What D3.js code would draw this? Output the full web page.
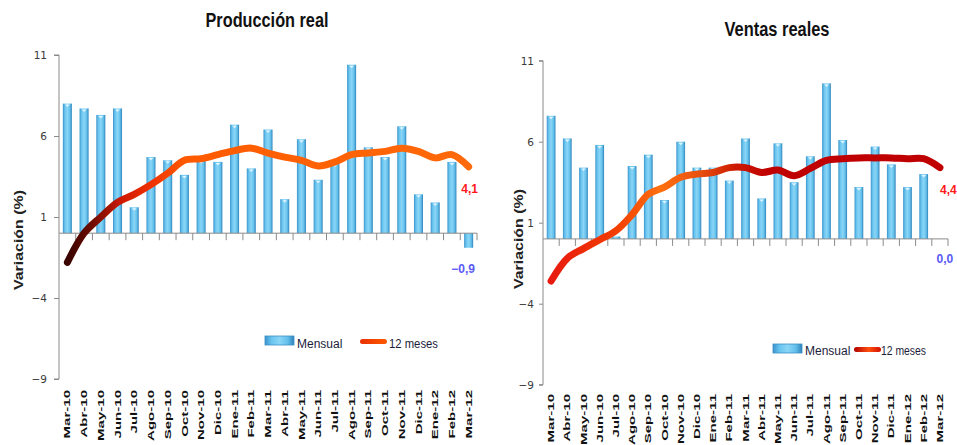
<!DOCTYPE html>
<html>
<head>
<meta charset="utf-8">
<script src="https://cdn.jsdelivr.net/npm/d3@7"></script>
<style>
  html, body { margin: 0; padding: 0; background: #fff; }
  svg { display: block; font-family: "Liberation Sans", Arial, sans-serif; }
</style>
</head>
<body>
<svg id="chart" width="957" height="445"></svg>
<script>
// Months shared by both panels
const categories = ["Mar-10","Abr-10","May-10","Jun-10","Jul-10","Ago-10","Sep-10","Oct-10","Nov-10","Dic-10",
  "Ene-11","Feb-11","Mar-11","Abr-11","May-11","Jun-11","Jul-11","Ago-11","Sep-11","Oct-11","Nov-11","Dic-11",
  "Ene-12","Feb-12","Mar-12"];

// Producción real: monthly variation and 12-month variation (%)
const produccionMensual = [8.0, 7.7, 7.3, 7.7, 1.6, 4.7, 4.5, 3.6, 4.5, 4.4, 6.7, 4.0, 6.4, 2.1, 5.8, 3.3,
  4.3, 10.4, 5.3, 4.7, 6.6, 2.4, 1.9, 4.4, -0.9];
const produccion12m = [-1.8, 0.0, 1.0, 1.9, 2.4, 3.0, 3.7, 4.5, 4.6, 4.85, 5.1, 5.25, 4.95, 4.7, 4.5, 4.15,
  4.4, 4.85, 4.95, 5.05, 5.25, 5.05, 4.65, 4.85, 4.1];

// Ventas reales: monthly variation and 12-month variation (%)
const ventasMensual = [7.6, 6.2, 4.4, 5.8, 0.15, 4.5, 5.2, 2.4, 6.0, 4.4, 4.4, 3.6, 6.2, 2.5, 5.9, 3.5,
  5.1, 9.6, 6.1, 3.2, 5.7, 4.6, 3.2, 4.0, 0.0];
const ventas12m = [-2.6, -1.2, -0.6, -0.05, 0.5, 1.5, 2.75, 3.2, 3.8, 4.0, 4.1, 4.4, 4.4, 4.1, 4.25, 3.9,
  4.35, 4.85, 4.95, 5.0, 5.0, 5.0, 4.95, 4.95, 4.4];

const yTicks = [-9, -4, 1, 6, 11];
const yDomain = [-9, 11];
const titles = ["Producción real", "Ventas reales"];
const yLabel = "Variación (%)";
const legendLabels = ["Mensual", "12 meses"];

const fmt = v => d3.format(".1f")(v).replace(".", ",");

const svg = d3.select("#chart");
const defs = svg.append("defs");

// bar fill: cylinder-like horizontal shading
const barGrad = defs.append("linearGradient").attr("id", "barGrad")
  .attr("x1", "0%").attr("x2", "100%").attr("y1", "0%").attr("y2", "0%");
[["0%", "#3a93cc"], ["22%", "#69c4ee"], ["50%", "#8ad5f7"], ["78%", "#63c0eb"], ["100%", "#2f83bb"]]
  .forEach(([o, c]) => barGrad.append("stop").attr("offset", o).attr("stop-color", c));

const panels = [
  {
    id: "prod", title: titles[0], mensual: produccionMensual, doce: produccion12m,
    x0: 59, x1: 477, yTop: 55, yBot: 379,
    titleX: 267, titleY: 27, titleW: 123,
    yLabX: 19, yLabY: 240, tickSize: 5, tickPad: 7,
    catLabY: 390,
    legend: { x: 265, y: 336, textY: 348 },
    lineStops: [[68, "#3a0400"], [92, "#6e0c00"], [122, "#cf1a00"], [150, "#ef3000"], [185, "#ff5a00"], [477, "#ff6a0a"]],
    endLabelDx: 1, endLabelY: 193, negLabelDx: -5.5, negLabelY: 273
  },
  {
    id: "vent", title: titles[1], mensual: ventasMensual, doce: ventas12m,
    x0: 543, x1: 948, yTop: 60.7, yBot: 384.7,
    titleX: 777, titleY: 36, titleW: 105,
    yLabX: 519, yLabY: 239, tickSize: 4, tickPad: 5,
    catLabY: 394,
    legend: { x: 773, y: 344, textY: 355 },
    lineStops: [[551, "#e81a10"], [615, "#f23c00"], [660, "#ff7010"], [700, "#e85010"], [735, "#cc1a00"], [770, "#c00000"], [948, "#c00000"]],
    endLabelDx: 8.5, endLabelY: 194, negLabelDx: 5, negLabelY: 263
  }
];

panels.forEach(p => {
  const g = svg.append("g").attr("class", "panel-" + p.id);

  const x = d3.scaleBand().domain(categories).range([p.x0, p.x1]).paddingInner(0.46).paddingOuter(0.23);
  const y = d3.scaleLinear().domain(yDomain).range([p.yBot, p.yTop]);
  const cx = c => x(c) + x.bandwidth() / 2;
  const step = x.step();

  // gradient along the 12-month line
  const lg = defs.append("linearGradient").attr("id", "lineGrad-" + p.id)
    .attr("gradientUnits", "userSpaceOnUse")
    .attr("x1", p.x0).attr("x2", p.x1).attr("y1", 0).attr("y2", 0);
  p.lineStops.forEach(([px, c]) => lg.append("stop")
    .attr("offset", ((px - p.x0) / (p.x1 - p.x0)) * 100 + "%").attr("stop-color", c));

  // title
  g.append("text").attr("x", p.titleX).attr("y", p.titleY)
    .attr("text-anchor", "middle").attr("font-weight", "bold").attr("font-size", 20)
    .attr("textLength", p.titleW).attr("lengthAdjust", "spacingAndGlyphs")
    .attr("fill", "#111").text(p.title);

  // y axis
  const yAxis = d3.axisLeft(y).tickValues(yTicks).tickSize(p.tickSize).tickPadding(p.tickPad)
    .tickFormat(d3.format("d"));
  const ya = g.append("g").attr("transform", `translate(${p.x0},0)`).call(yAxis);
  ya.select(".domain").attr("stroke", "#8a8a8a").attr("d", `M${-p.tickSize},${p.yBot}H0V${p.yTop}H${-p.tickSize}`);
  ya.selectAll(".tick line").attr("stroke", "#8a8a8a");
  ya.selectAll(".tick text").attr("fill", "#3a3a3a")
    .attr("font-family", "'DejaVu Sans', sans-serif").attr("font-size", 10.5);

  // y axis title
  g.append("text")
    .attr("transform", `translate(${p.yLabX},${p.yLabY}) rotate(-90)`)
    .attr("text-anchor", "middle").attr("dy", "0.35em")
    .attr("font-weight", "bold").attr("font-size", 12)
    .attr("textLength", 100).attr("lengthAdjust", "spacingAndGlyphs")
    .attr("fill", "#222").text(yLabel);

  // bars
  g.append("g").selectAll("rect").data(categories).join("rect")
    .attr("x", c => x(c))
    .attr("width", x.bandwidth())
    .attr("y", (c, i) => y(Math.max(0, p.mensual[i])))
    .attr("height", (c, i) => Math.abs(y(p.mensual[i]) - y(0)))
    .attr("fill", "url(#barGrad)");

  // little highlight on top of each bar
  g.append("g").selectAll("path").data(categories.filter((c, i) => p.mensual[i] > 0.5)).join("path")
    .attr("d", c => {
      const i = categories.indexOf(c);
      const top = y(p.mensual[i]);
      const m = cx(c);
      return `M${m - 2.5},${top + 1}L${m + 2.5},${top + 1}L${m},${top + 3.5}Z`;
    })
    .attr("fill", "#e6f7ff").attr("opacity", 0.9);

  // category axis through zero
  const xa = g.append("g");
  xa.append("line").attr("x1", p.x0).attr("x2", p.x1).attr("y1", y(0)).attr("y2", y(0))
    .attr("stroke", "#8a8a8a");
  xa.selectAll("line.tk").data(categories.slice(1).concat(["__end"])).join("line").attr("class", "tk")
    .attr("x1", c => c === "__end" ? p.x1 : x(c) - step * 0.23)
    .attr("x2", c => c === "__end" ? p.x1 : x(c) - step * 0.23)
    .attr("y1", y(0)).attr("y2", y(0) + 7)
    .attr("stroke", "#8a8a8a");

  // category labels at the bottom
  g.append("g").selectAll("text").data(categories).join("text")
    .attr("transform", c => `translate(${cx(c)},${p.catLabY}) rotate(-90) scale(1.6,1)`)
    .attr("text-anchor", "end").attr("dy", "0.33em")
    .attr("font-weight", "bold").attr("font-size", 9.4)
    .attr("fill", "#111").text(c => c);

  // 12-month line
  const line = d3.line().x((d, i) => cx(categories[i])).y(d => y(d)).curve(d3.curveCatmullRom.alpha(0.5));
  g.append("path").datum(p.doce).attr("d", line)
    .attr("fill", "none").attr("stroke", `url(#lineGrad-${p.id})`)
    .attr("stroke-width", 7).attr("stroke-linecap", "round").attr("stroke-linejoin", "round");

  // value labels for the last month
  const last = categories.length - 1;
  g.append("text").attr("x", cx(categories[last]) + p.endLabelDx).attr("y", p.endLabelY)
    .attr("text-anchor", "middle").attr("font-weight", "bold").attr("font-size", 12)
    .attr("fill", "#ff1a1a").text(fmt(p.doce[last]));
  g.append("text").attr("x", cx(categories[last]) + p.negLabelDx).attr("y", p.negLabelY)
    .attr("text-anchor", "middle").attr("font-weight", "bold").attr("font-size", 12)
    .attr("fill", "#5a5af5").text(fmt(p.mensual[last]));

  // legend
  const L = g.append("g").attr("transform", `translate(${p.legend.x},${p.legend.y})`);
  L.append("rect").attr("width", 29).attr("height", 9).attr("fill", "url(#barGrad)")
    .attr("stroke", "#3a8fc6").attr("stroke-width", 0.8);
  L.append("text").attr("x", 32).attr("y", p.legend.textY - p.legend.y)
    .attr("font-size", 12).attr("fill", "#1c1c3a").text(legendLabels[0]);
  const lg2 = defs.append("linearGradient").attr("id", "legLine-" + p.id)
    .attr("x1", "0%").attr("x2", "100%");
  const legStops = p.id === "prod"
    ? [["0%", "#e83000"], ["100%", "#ff5a00"]]
    : [["0%", "#b00000"], ["55%", "#ff5010"], ["100%", "#d01000"]];
  legStops.forEach(([o, c]) => lg2.append("stop").attr("offset", o).attr("stop-color", c));
  L.append("rect").attr("x", p.id === "prod" ? 95 : 81).attr("y", 3).attr("width", 27).attr("height", 5).attr("rx", 2.5)
    .attr("fill", `url(#legLine-${p.id})`);
  L.append("text").attr("x", p.id === "prod" ? 124 : 108).attr("y", p.legend.textY - p.legend.y)
    .attr("font-size", 12).attr("fill", "#1c1c3a")
    .attr("textLength", p.id === "prod" ? 49 : 45).attr("lengthAdjust", "spacingAndGlyphs")
    .text(legendLabels[1]);
});
</script>
</body>
</html>
